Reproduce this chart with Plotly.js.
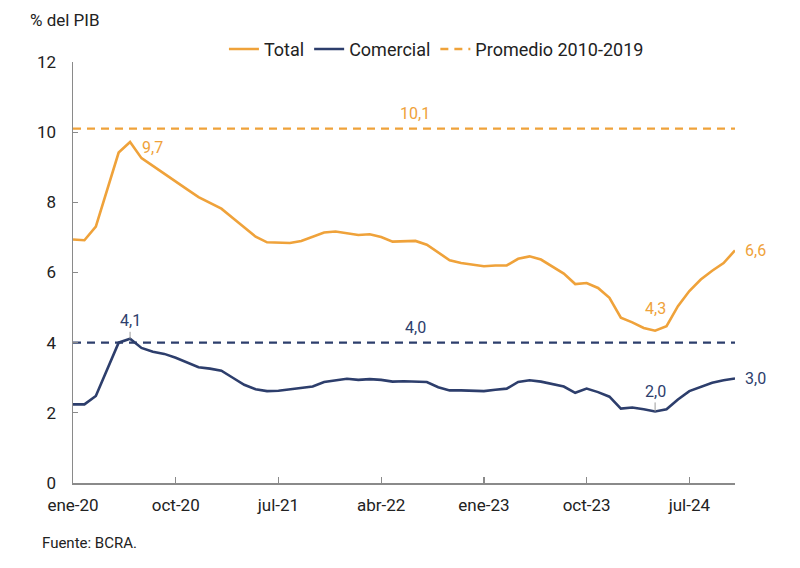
<!DOCTYPE html>
<html>
<head>
<meta charset="utf-8">
<script src="https://cdn.plot.ly/plotly-3.0.1.min.js"></script>
<style>
  html, body { margin: 0; padding: 0; background: #ffffff; }
  #chart { width: 800px; height: 568px; }
</style>
</head>
<body>
<div id="chart"></div>
<script>
// Monthly periods, ene-20 to nov-24
const monthNames = ['ene', 'feb', 'mar', 'abr', 'may', 'jun', 'jul', 'ago', 'sep', 'oct', 'nov', 'dic'];
const months = [];
for (let y = 20; y <= 24; y++) {
  for (let m = 0; m < 12; m++) {
    if (y === 24 && m > 10) break;
    months.push(monthNames[m] + '-' + y);
  }
}

// Financiamiento, % del PIB
const total = [
  6.94, 6.92, 7.31, 8.40, 9.42, 9.72, 9.26, 9.04, 8.81, 8.59,
  8.37, 8.15, 7.99, 7.82, 7.55, 7.29, 7.02, 6.86, 6.84, 6.84,
  6.90, 7.03, 7.14, 7.17, 7.13, 7.07, 7.09, 7.01, 6.88, 6.90,
  6.90, 6.79, 6.56, 6.35, 6.27, 6.22, 6.18, 6.20, 6.20, 6.39,
  6.46, 6.37, 6.18, 5.97, 5.67, 5.70, 5.56, 5.28, 4.71, 4.58,
  4.42, 4.34, 4.47, 5.04, 5.47, 5.80, 6.05, 6.27, 6.63
];
const comercial = [
  2.24, 2.24, 2.48, 3.26, 4.00, 4.11, 3.85, 3.74, 3.68, 3.57,
  3.43, 3.30, 3.26, 3.20, 3.00, 2.80, 2.67, 2.62, 2.63, 2.67,
  2.71, 2.75, 2.88, 2.92, 2.97, 2.94, 2.96, 2.94, 2.89, 2.90,
  2.89, 2.88, 2.73, 2.64, 2.64, 2.64, 2.62, 2.66, 2.69, 2.88,
  2.93, 2.89, 2.83, 2.75, 2.57, 2.69, 2.59, 2.46, 2.12, 2.15,
  2.10, 2.04, 2.10, 2.38, 2.62, 2.73, 2.86, 2.93, 2.98
];
// Promedios 2010-2019
const promedioTotal = 10.1;
const promedioComercial = 4.0;

const xTicks = ['ene-20', 'oct-20', 'jul-21', 'abr-22', 'ene-23', 'oct-23', 'jul-24'];
const yTicks = [0, 2, 4, 6, 8, 10, 12];

const ORANGE = '#EFA23A';
const NAVY = '#2D3E6C';
const FONT = 'Roboto, Arial, sans-serif';
const fmt = v => v.toFixed(1).replace('.', ',');

const first = months[0];
const last = months[months.length - 1];
const nLast = months.length - 1;

const idxMax = arr => arr.indexOf(Math.max(...arr));
const idxMinAfter = (arr, start) => {
  let k = start;
  for (let i = start; i < arr.length; i++) if (arr[i] < arr[k]) k = i;
  return k;
};
const tPeak = idxMax(total);
const cPeak = idxMax(comercial);
const tLow = idxMinAfter(total, 30);
const cLow = idxMinAfter(comercial, 30);

const traces = [
  {
    x: months, y: total, type: 'scatter', mode: 'lines', name: 'Total',
    line: { color: ORANGE, width: 2.6 }
  },
  {
    x: months, y: comercial, type: 'scatter', mode: 'lines', name: 'Comercial',
    line: { color: NAVY, width: 2.6 }
  },
  {
    x: [first, last], y: [promedioTotal, promedioTotal], type: 'scatter', mode: 'lines',
    name: 'Promedio 2010-2019',
    line: { color: ORANGE, width: 2.4, dash: '8px,6px' }
  },
  {
    x: [first, last], y: [promedioComercial, promedioComercial], type: 'scatter', mode: 'lines',
    showlegend: false,
    line: { color: NAVY, width: 2.4, dash: '8px,6px' }
  }
];

const labelFont = (c) => ({ family: FONT, size: 16, color: c });

const annotations = [
  { x: months[tPeak], y: total[tPeak], text: fmt(total[tPeak]), showarrow: false,
    xanchor: 'left', yanchor: 'middle', xshift: 10, yshift: -6, font: labelFont(ORANGE) },
  { x: months[tLow], y: total[tLow], text: fmt(total[tLow]), showarrow: false,
    xanchor: 'center', yanchor: 'bottom', yshift: 11, font: labelFont(ORANGE) },
  { x: months[nLast], y: total[nLast], text: fmt(total[nLast]), showarrow: false,
    xanchor: 'left', yanchor: 'middle', xshift: 8, font: labelFont(ORANGE) },
  { x: months[cPeak], y: comercial[cPeak], text: fmt(comercial[cPeak]), showarrow: true,
    arrowhead: 0, arrowwidth: 1, arrowcolor: '#9a9a9a', ax: 0, ay: -18, standoff: 0,
    font: labelFont(NAVY) },
  { x: months[cLow], y: comercial[cLow], text: fmt(comercial[cLow]), showarrow: true,
    arrowhead: 0, arrowwidth: 1, arrowcolor: '#9a9a9a', ax: 0, ay: -20, standoff: 0,
    font: labelFont(NAVY) },
  { x: months[nLast], y: comercial[nLast], text: fmt(comercial[nLast]), showarrow: false,
    xanchor: 'left', yanchor: 'middle', xshift: 8, font: labelFont(NAVY) },
  { x: 'jul-22', y: promedioTotal, text: fmt(promedioTotal), showarrow: false,
    yanchor: 'bottom', yshift: 4, font: labelFont(ORANGE) },
  { x: 'jul-22', y: promedioComercial, text: fmt(promedioComercial), showarrow: false,
    yanchor: 'bottom', yshift: 4, font: labelFont(NAVY) },
  { xref: 'paper', yref: 'paper', x: -0.05, y: -0.143, xanchor: 'left', yanchor: 'middle',
    text: 'Fuente: BCRA.', showarrow: false,
    font: { family: FONT, size: 15, color: '#222222' } }
];

const layout = {
  width: 800, height: 568,
  paper_bgcolor: '#ffffff', plot_bgcolor: '#ffffff',
  margin: { l: 73, r: 65, t: 62, b: 85 },
  font: { family: FONT, size: 16, color: '#222222' },
  title: {
    text: '% del PIB', xref: 'container', yref: 'container',
    x: 30 / 800, xanchor: 'left', y: 1 - 20 / 568, yanchor: 'middle',
    font: { family: FONT, size: 17, color: '#222222' }
  },
  showlegend: true,
  legend: {
    orientation: 'h', x: 0.228, xanchor: 'left', y: 1.03, yanchor: 'middle',
    font: { family: FONT, size: 18, color: '#222222' },
    bgcolor: 'rgba(0,0,0,0)', itemwidth: 30, traceorder: 'normal'
  },
  xaxis: {
    type: 'category', range: [0, nLast],
    tickmode: 'array', tickvals: xTicks, ticktext: xTicks,
    showgrid: false, zeroline: false,
    showline: true, linecolor: '#8a8a8a', linewidth: 1.5,
    ticks: 'inside', ticklen: 6, tickcolor: '#8a8a8a', tickwidth: 1.2,
    tickfont: { family: FONT, size: 17, color: '#222222' },
    ticklabelstandoff: 6
  },
  yaxis: {
    range: [0, 12], tickmode: 'array', tickvals: yTicks,
    showgrid: false, zeroline: false,
    showline: true, linecolor: '#8a8a8a', linewidth: 1.5,
    ticks: 'inside', ticklen: 5, tickcolor: '#8a8a8a', tickwidth: 1.2,
    tickfont: { family: FONT, size: 17, color: '#222222' },
    ticklabelstandoff: 12
  },
  annotations: annotations
};

Plotly.newPlot('chart', traces, layout, { displayModeBar: false, staticPlot: true });
</script>
</body>
</html>
